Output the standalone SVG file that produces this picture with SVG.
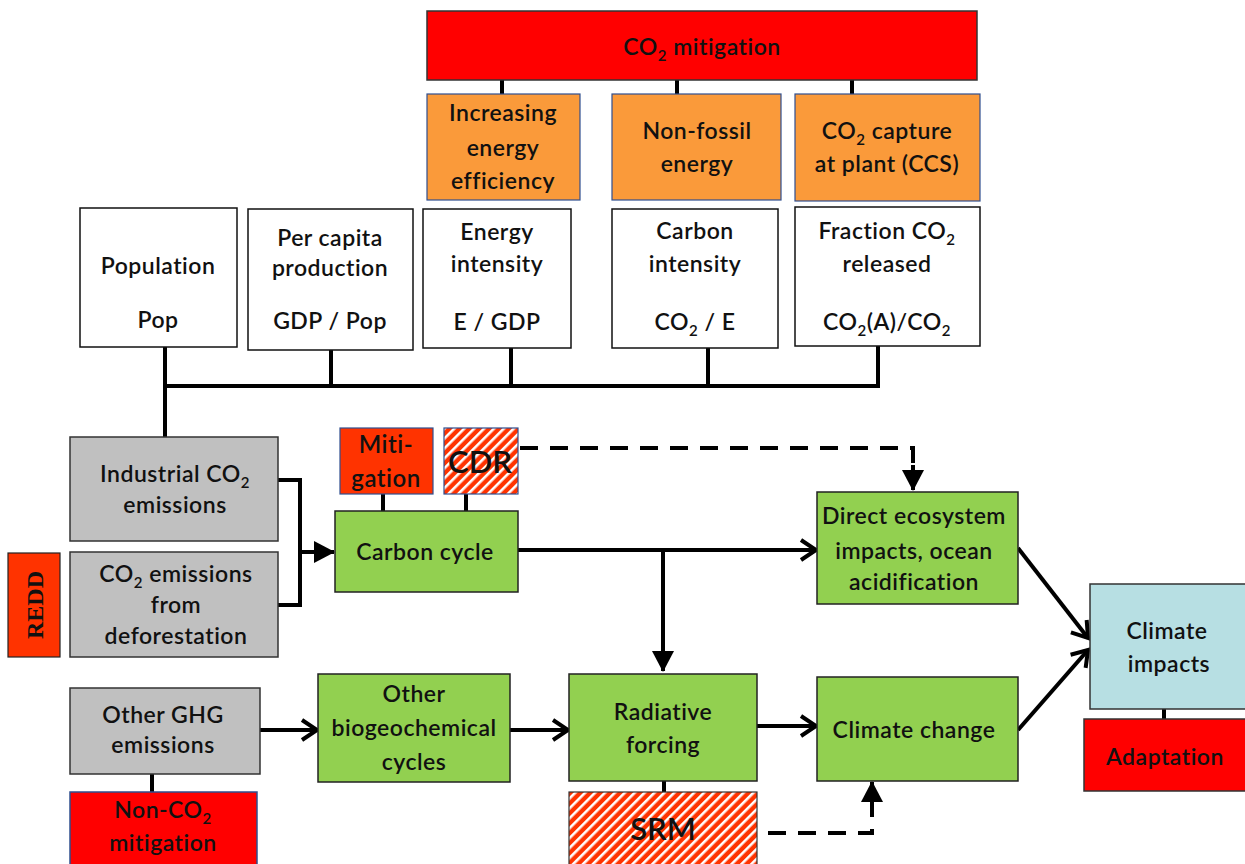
<svg xmlns="http://www.w3.org/2000/svg" width="1245" height="864" viewBox="0 0 1245 864">
<style>
text{font-family:Lato,"Open Sans","Liberation Sans",sans-serif;font-size:23px;font-weight:600;letter-spacing:0.5px;fill:#111;text-anchor:middle}
.sub{font-size:15px}
.red{fill:#ff0000;stroke:#333;stroke-width:1.5}
.redo{fill:#ff3300;stroke:#2f4f8f;stroke-width:1.2}
.org{fill:#fa9a3a;stroke:#2f4f8f;stroke-width:1.2}
.wht{fill:#fff;stroke:#111;stroke-width:1.5}
.gry{fill:#c0c0c0;stroke:#333;stroke-width:1.5}
.grn{fill:#92d050;stroke:#222;stroke-width:1.5}
.blu{fill:#b7dfe3;stroke:#333;stroke-width:1.5}
.hat{fill:url(#hatch);stroke:#2f4f8f;stroke-width:1.2}
.ln{fill:none;stroke:#000;stroke-width:4}
.dash{fill:none;stroke:#000;stroke-width:4;stroke-dasharray:18 12}
</style>
<defs>
<pattern id="hatch" patternUnits="userSpaceOnUse" width="7" height="7" patternTransform="rotate(45)">
<rect width="7" height="7" fill="#ff3300"/>
<rect width="2.6" height="7" fill="#fff"/>
</pattern>
<marker id="open" markerUnits="userSpaceOnUse" markerWidth="22" markerHeight="26" viewBox="0 0 22 26" refX="18" refY="13" orient="auto">
<path d="M3,3 L18,13 L3,23" fill="none" stroke="#000" stroke-width="4"/>
</marker>
<marker id="fill" markerUnits="userSpaceOnUse" markerWidth="22" markerHeight="22" viewBox="0 0 22 22" refX="20" refY="11" orient="auto">
<path d="M0,0 L21,11 L0,22 Z" fill="#000"/>
</marker>
</defs>

<g id="connectors">
<path class="ln" d="M502,80 V94 M677,80 V94 M852,80 V94"/>
<path class="ln" d="M165,347 V437 M163,386 H880 M331,350 V386 M511,348 V386 M708,348 V386 M878,346 V386"/>
<path class="ln" d="M278,480 H300 V605 H278"/>
<path class="ln" d="M300,552 H334" marker-end="url(#fill)"/>
<path class="ln" d="M383,494 V511 M466,494 V511"/>
<path class="ln" d="M518,550 H816" marker-end="url(#open)"/>
<path class="ln" d="M663,550 V671" marker-end="url(#fill)"/>
<path class="dash" d="M520,448 H913 V465"/>
<path class="ln" d="M913,465 V490" marker-end="url(#fill)"/>
<path class="ln" d="M1018,548 L1088,638" marker-end="url(#open)"/>
<path class="ln" d="M1018,730 L1088,650" marker-end="url(#open)"/>
<path class="ln" d="M1164,709 V719"/>
<path class="ln" d="M152,774 V792"/>
<path class="ln" d="M260,730 H317" marker-end="url(#open)"/>
<path class="ln" d="M510,730 H568" marker-end="url(#open)"/>
<path class="ln" d="M757,726 H816" marker-end="url(#open)"/>
<path class="ln" d="M664,781 V792"/>
<path class="dash" d="M768,833 H872 V815"/>
<path class="ln" d="M872,815 V782" marker-end="url(#fill)"/>
</g>

<g id="co2-mitigation"><rect class="red" x="427" y="11" width="550" height="69"/>
<text x="702" y="55">CO<tspan class="sub" dy="6">2</tspan><tspan dy="-6"> mitigation</tspan></text></g>

<g id="efficiency"><rect class="org" x="427" y="94" width="153" height="106"/>
<text x="503" y="121">Increasing</text><text x="503" y="156">energy</text><text x="503" y="189">efficiency</text></g>
<g id="nonfossil"><rect class="org" x="612" y="94" width="169" height="106"/>
<text x="697" y="139">Non-fossil</text><text x="697" y="172">energy</text></g>
<g id="ccs"><rect class="org" x="795" y="94" width="185" height="107"/>
<text x="887" y="139">CO<tspan class="sub" dy="6">2</tspan><tspan dy="-6"> capture</tspan></text><text x="887" y="172">at plant (CCS)</text></g>

<g id="population"><rect class="wht" x="80" y="208" width="157" height="139"/>
<text x="158" y="274">Population</text><text x="158" y="328">Pop</text></g>
<g id="percapita"><rect class="wht" x="248" y="209" width="165" height="141"/>
<text x="330" y="246">Per capita</text><text x="330" y="276">production</text><text x="330" y="329">GDP / Pop</text></g>
<g id="energy-intensity"><rect class="wht" x="423" y="209" width="148" height="139"/>
<text x="497" y="240">Energy</text><text x="497" y="272">intensity</text><text x="497" y="330">E / GDP</text></g>
<g id="carbon-intensity"><rect class="wht" x="612" y="209" width="166" height="139"/>
<text x="695" y="239">Carbon</text><text x="695" y="272">intensity</text>
<text x="695" y="330">CO<tspan class="sub" dy="6">2</tspan><tspan dy="-6"> / E</tspan></text></g>
<g id="fraction"><rect class="wht" x="795" y="207" width="185" height="139"/>
<text x="887" y="239">Fraction CO<tspan class="sub" dy="6">2</tspan></text><text x="887" y="272">released</text>
<text x="887" y="330">CO<tspan class="sub" dy="6">2</tspan><tspan dy="-6">(A)/CO</tspan><tspan class="sub" dy="6">2</tspan></text></g>

<g id="industrial"><rect class="gry" x="70" y="437" width="208" height="104"/>
<text x="175" y="482">Industrial CO<tspan class="sub" dy="6">2</tspan></text><text x="175" y="513">emissions</text></g>
<g id="deforestation"><rect class="gry" x="70" y="552" width="208" height="105"/>
<text x="176" y="582">CO<tspan class="sub" dy="6">2</tspan><tspan dy="-6"> emissions</tspan></text><text x="176" y="613">from</text><text x="176" y="644">deforestation</text></g>
<g id="redd"><rect class="redo" x="8" y="553" width="52" height="104" style="stroke:#222"/>
<text transform="translate(43,605) rotate(-90)" style="font-family:'Liberation Serif',serif;font-size:24px;font-weight:bold;letter-spacing:0">REDD</text></g>

<g id="mitigation"><rect class="redo" x="340" y="428" width="93" height="66"/>
<text x="386" y="453" style="font-size:24px">Miti-</text><text x="386" y="487" style="font-size:24px">gation</text></g>
<g id="cdr"><rect class="hat" x="444" y="428" width="74" height="66"/>
<text x="480" y="473" style="font-size:31px;letter-spacing:0">CDR</text></g>
<g id="carbon-cycle"><rect class="grn" x="335" y="511" width="183" height="81"/>
<text x="425" y="560">Carbon cycle</text></g>

<g id="direct-ecosystem"><rect class="grn" x="817" y="492" width="201" height="112"/>
<text x="914" y="524">Direct ecosystem</text><text x="914" y="559">impacts,  ocean</text><text x="914" y="590">acidification</text></g>
<g id="climate-change"><rect class="grn" x="817" y="677" width="201" height="104"/>
<text x="914" y="738">Climate change</text></g>
<g id="climate-impacts"><rect class="blu" x="1090" y="584" width="160" height="125"/>
<text x="1167" y="639">Climate</text><text x="1169" y="672">impacts</text></g>
<g id="adaptation"><rect class="red" x="1084" y="719" width="166" height="72"/>
<text x="1165" y="765">Adaptation</text></g>

<g id="other-ghg"><rect class="gry" x="70" y="688" width="190" height="86"/>
<text x="163" y="723">Other GHG</text><text x="163" y="753">emissions</text></g>
<g id="nonco2"><rect class="red" x="70" y="792" width="187" height="76" style="stroke:#2f4f8f"/>
<text x="163" y="818">Non-CO<tspan class="sub" dy="6">2</tspan></text><text x="163" y="851">mitigation</text></g>
<g id="other-bio"><rect class="grn" x="318" y="674" width="192" height="108"/>
<text x="414" y="702">Other</text><text x="414" y="736">biogeochemical</text><text x="414" y="770">cycles</text></g>
<g id="radiative"><rect class="grn" x="569" y="674" width="188" height="107"/>
<text x="663" y="720">Radiative</text><text x="663" y="753">forcing</text></g>
<g id="srm"><rect class="hat" x="569" y="792" width="188" height="76" style="stroke:#333"/>
<text x="663" y="840" style="font-size:31px;letter-spacing:0">SRM</text></g>
</svg>
